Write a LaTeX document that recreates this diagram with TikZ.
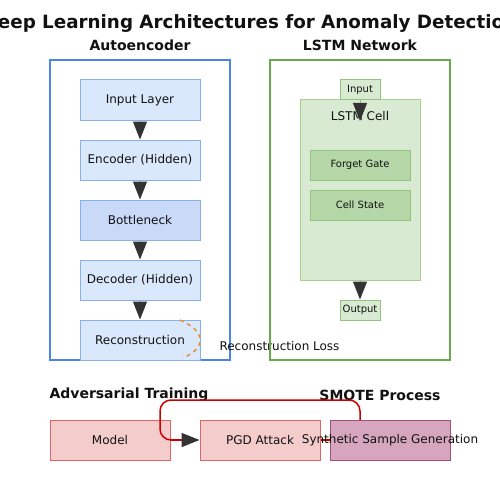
\documentclass[tikz,border=0pt]{standalone}
\usepackage{fontspec}
\setmainfont{DejaVu Sans}
\usetikzlibrary{arrows.meta}
\definecolor{aeframe}{HTML}{4A86E8}
\definecolor{aeline}{HTML}{8AB0EC}
\definecolor{aefill}{HTML}{DAE8FC}
\definecolor{bnfill}{HTML}{C9DAF8}
\definecolor{lsframe}{HTML}{6AA84F}
\definecolor{lsline}{HTML}{A9D18E}
\definecolor{lsfill}{HTML}{D9EAD3}
\definecolor{gatefill}{HTML}{B6D7A8}
\definecolor{gateline}{HTML}{93C47D}
\definecolor{advfill}{HTML}{F4CCCC}
\definecolor{advline}{HTML}{E06666}
\definecolor{smfill}{HTML}{D5A6BD}
\definecolor{smline}{HTML}{A64D79}
\definecolor{redconn}{HTML}{CC0000}
\definecolor{lossorange}{HTML}{E69138}
\definecolor{headgray}{HTML}{333333}
\definecolor{txt}{HTML}{111111}
\begin{document}
\begin{tikzpicture}[x=1pt,y=-1pt,
  every node/.style={text=txt},
  titletext/.style={font=\bfseries\fontsize{18.3}{21}\selectfont},
  subtitle/.style={font=\bfseries\fontsize{14}{16}\selectfont},
  frame/.style={draw=#1, line width=2pt, minimum width=180pt, minimum height=300pt, inner sep=0pt},
  aebox/.style={draw=aeline, fill=aefill, line width=1pt, minimum width=120pt, minimum height=40pt, inner sep=0pt, font=\fontsize{12}{14}\selectfont},
  smallbox/.style={draw=gateline, fill=lsfill, line width=1pt, minimum width=40pt, minimum height=20pt, inner sep=0pt, font=\fontsize{10}{12}\selectfont},
  gatebox/.style={draw=gateline, fill=gatefill, line width=1pt, minimum width=100pt, minimum height=30pt, inner sep=0pt, font=\fontsize{10}{12}\selectfont},
  advbox/.style={draw=advline, fill=advfill, line width=1pt, minimum width=120pt, minimum height=40pt, inner sep=0pt, font=\fontsize{12}{14}\selectfont},
  headarrow/.style={line width=1pt, -{Triangle[length=18pt,width=14pt,color=headgray]}},
  plain/.style={font=\fontsize{12}{14}\selectfont}
]
\useasboundingbox (0,0) rectangle (500,500);
\fill[white] (0,0) rectangle (500,500);

\node[titletext] (title) at (250,24) {Deep Learning Architectures for Anomaly Detection};
\node[subtitle] (aetitle) at (140,45) {Autoencoder};
\node[subtitle] (lstitle) at (360,45) {LSTM Network};

% Autoencoder
\node[frame=aeframe] (aeframe) at (140,210) {};
\node[aebox] (inl) at (140,100) {Input Layer};
\node[aebox] (enc) at (140,160) {Encoder (Hidden)};
\node[aebox, fill=bnfill] (bot) at (140,220) {Bottleneck};
\node[aebox] (dec) at (140,280) {Decoder (Hidden)};
\node[aebox] (rec) at (140,340) {Reconstruction};
\draw[headarrow, aeline] (inl) -- (enc);
\draw[headarrow, aeline] (enc) -- (bot);
\draw[headarrow, aeline] (bot) -- (dec);
\draw[headarrow, aeline] (dec) -- (rec);
\coordinate (lossa) at (180,320);
\coordinate (lossb) at (183,358);
\draw[lossorange, line width=1.5pt, dash pattern=on 4pt off 4pt] (lossa) .. controls (207,332) and (206,348) .. (lossb);
\node[plain, anchor=west] (losslbl) at (216,346) {Reconstruction Loss};

% LSTM
\node[frame=lsframe] (lsframe) at (360,210) {};
\node[draw=lsline, fill=lsfill, line width=1pt, minimum width=120pt, minimum height=180pt, inner sep=0pt] (cell) at (360,190) {};
\node[smallbox] (lin) at (360,90) {Input};
\node[plain] (celllbl) at (360,116) {LSTM Cell};
\node[gatebox] (forget) at (360,165) {Forget Gate};
\node[gatebox] (state) at (360,205) {Cell State};
\node[smallbox] (lout) at (360,310) {Output};
\coordinate (cellin) at (360,121);
\draw[headarrow, gateline] (lin.south) -- (cellin);
\draw[headarrow, gateline] (cell.south) -- (lout.north);

% Bottom
\node[subtitle, anchor=west] (advtitle) at (46,395) {Adversarial Training};
\node[subtitle] (smtitle) at (380,395) {SMOTE Process};
\node[advbox] (model) at (110,440) {Model};
\node[advbox] (pgd) at (260,440) {PGD Attack};
\node[advbox, draw=smline, fill=smfill] (smote) at (390,440) {};
\draw[redconn, line width=1.5pt] (pgd.east) -- (smote.west);
\node[plain] (smtext) at (390,440) {Synthetic Sample Generation};
\coordinate (smtop) at (360,420);
\draw[redconn, line width=1.5pt, rounded corners=11pt] (smtop) -- (360,400) -- (160,400) -- (160,440) -- (model.east);
\draw[redconn, line width=1.5pt, -{Triangle[length=18pt,width=14pt,color=headgray]}] (model.east) -- (pgd.west);
\end{tikzpicture}
\end{document}
